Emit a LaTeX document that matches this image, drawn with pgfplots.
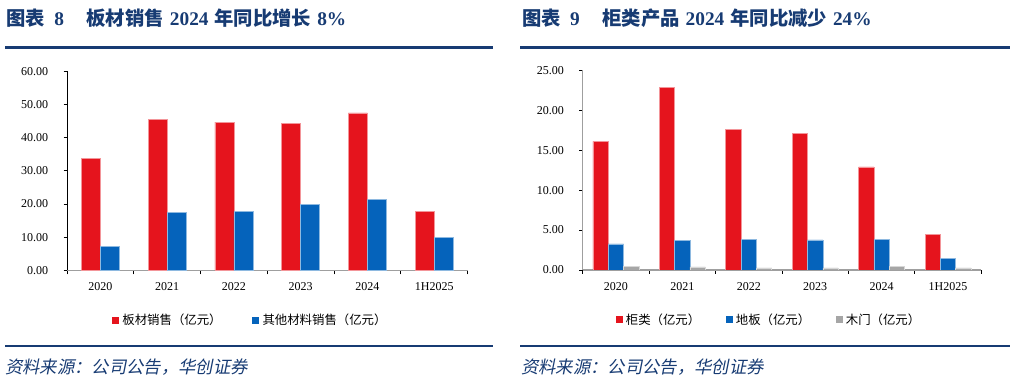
\documentclass[border=0pt]{standalone}
\usepackage{pgfplots}
\pgfplotsset{compat=1.18}
\usepackage{fontspec}
\setmainfont{Liberation Serif}
\newfontfamily\cjk{Noto Sans CJK SC}
\newfontfamily\cjkit{Noto Sans CJK SC}[FakeSlant=0.2]
\definecolor{navy}{HTML}{173B73}
\definecolor{barred}{HTML}{E5141D}
\definecolor{barblue}{HTML}{0563BB}
\definecolor{bargray}{HTML}{A6A6A6}
\pgfplotsset{
  mybars/.style={
    scale only axis,
    xmin=-0.5, xmax=5.5, ymin=0,
    axis x line*=bottom, axis y line*=left,
    axis line style={-},
    x axis line style={draw=gray!75, line width=1pt},
    tick align=outside,
    major tick length=2.6pt,
    minor tick length=3pt,
    xtick={0,...,5},
    xticklabels={2020,2021,2022,2023,2024,1H2025},
    minor xtick={-0.5,0.5,...,5.5},
    major x tick style={draw=none},
    minor x tick style={black, line width=0.6pt},
    y tick style={black, line width=0.6pt},
    scaled y ticks=false,
    yticklabel style={/pgf/number format/fixed, /pgf/number format/fixed zerofill, /pgf/number format/precision=2, /pgf/number format/assume math mode=true},
    ticklabel style={font=\fontsize{9}{10}\selectfont, text=black},
    xticklabel style={yshift=-3pt},
    yticklabel style={xshift=-8pt},
    legend style={draw=none, fill=none, legend columns=-1,
      font=\cjk\fontsize{9.3}{11}\selectfont, inner sep=0pt,
      /tikz/every odd column/.append style={column sep=0.5pt}},
  },
  sqlegend/.style={legend image code/.code={\fill[##1, draw=none] (0pt,-2.6pt) rectangle (5.2pt,2.6pt);}},
}
\pgfplotstableread{
x a b
0 33.67 7.24
1 45.5 17.5
2 44.7 17.7
3 44.2 19.8
4 47.5 21.3
5 17.8 9.95
}\lefttab
\pgfplotstableread{
x a b c
0 16.11 3.26 0.50
1 22.87 3.71 0.38
2 17.61 3.84 0.25
3 17.11 3.76 0.25
4 12.90 3.80 0.46
5 4.42 1.42 0.25
}\righttab
\begin{document}
\begin{tikzpicture}
\path (0pt,0pt) rectangle (759.75pt,285.75pt);
% titles
\node[anchor=west, text=navy, font=\fontsize{14.5}{16}\selectfont\bfseries, inner sep=0pt] at (4.5pt,271.9pt)
  {{\cjk\bfseries 图表}\hspace{7pt}8\hspace{17pt}{\cjk\bfseries 板材销售}\hspace{4.5pt}2024\hspace{4.5pt}{\cjk\bfseries 年同比增长}\hspace{4.5pt}8\%};
\node[anchor=west, text=navy, font=\fontsize{14.5}{16}\selectfont\bfseries, inner sep=0pt] at (391.3pt,271.9pt)
  {{\cjk\bfseries 图表}\hspace{7pt}9\hspace{17pt}{\cjk\bfseries 柜类产品}\hspace{4.5pt}2024\hspace{4.5pt}{\cjk\bfseries 年同比减少}\hspace{4.5pt}24\%};
\draw[navy, line width=2pt] (3.75pt,250.3pt) -- (370.1pt,250.3pt);
\draw[navy, line width=2pt] (390pt,250.3pt) -- (757.5pt,250.3pt);
\draw[navy, line width=1.5pt] (3.75pt,26.25pt) -- (370.1pt,26.25pt);
\draw[navy, line width=1.5pt] (390pt,26.25pt) -- (757.5pt,26.25pt);
\node[anchor=west, text=navy, font=\cjkit\fontsize{13}{14}\selectfont, inner sep=0pt] at (3.75pt,10.7pt) {资料来源：公司公告，华创证券};
\node[anchor=west, text=navy, font=\cjkit\fontsize{13}{14}\selectfont, inner sep=0pt] at (390.75pt,10.7pt) {资料来源：公司公告，华创证券};
% left chart
\begin{axis}[mybars,
  at={(50.25pt,83.0pt)}, anchor=south west,
  width=300.5pt, height=149.25pt,
  ymax=60, ytick={0,10,...,60},
  y axis line style={draw=black, line width=0.6pt},
  ybar=0pt, bar width=14.25pt, sqlegend,
  legend style={at={(0.112,0)}, anchor=west, yshift=-37.3pt,
    /tikz/every even column/.append style={column sep=21pt}},
]
\addplot[fill=barred, draw=barred!45!white, line width=0.4pt] table[x=x,y=a]{\lefttab};
\addlegendentry{板材销售（亿元）}
\addplot[fill=barblue, draw=barblue!45!white, line width=0.4pt] table[x=x,y=b]{\lefttab};
\addlegendentry{其他材料销售（亿元）}
\end{axis}
% right chart
\begin{axis}[mybars,
  at={(437.0pt,83.25pt)}, anchor=south west,
  width=298.95pt, height=149.8pt,
  ymax=25, ytick={0,5,...,25},
  y axis line style={draw=gray!75, line width=1pt},
  ybar=0pt, bar width=11.5pt, sqlegend,
  legend style={at={(0.082,0)}, anchor=west, yshift=-37.3pt,
    /tikz/every even column/.append style={column sep=17pt}},
]
\addplot[fill=barred, draw=barred!45!white, line width=0.4pt] table[x=x,y=a]{\righttab};
\addlegendentry{柜类（亿元）}
\addplot[fill=barblue, draw=barblue!45!white, line width=0.4pt] table[x=x,y=b]{\righttab};
\addlegendentry{地板（亿元）}
\addplot[fill=bargray, draw=bargray!45!white, line width=0.4pt] table[x=x,y=c]{\righttab};
\addlegendentry{木门（亿元）}
\end{axis}
\end{tikzpicture}
\end{document}
